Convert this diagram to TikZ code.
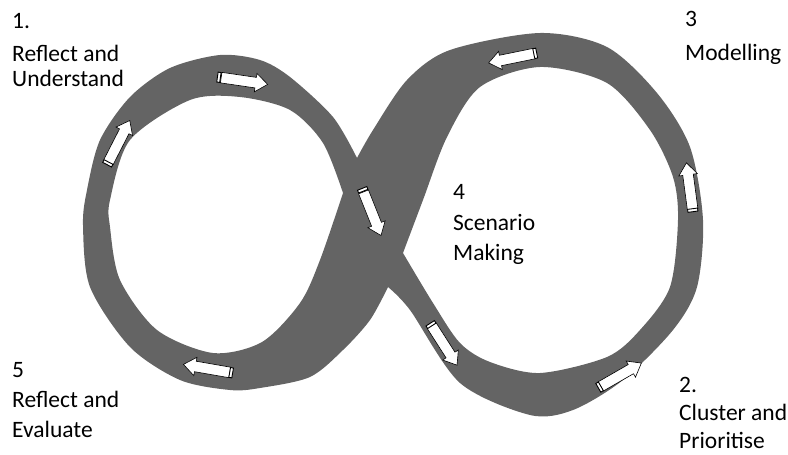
\documentclass[tikz,border=0pt]{standalone}
\usepackage{fontspec}
\setmainfont{Carlito}
\usetikzlibrary{shapes.arrows}
\definecolor{bandgray}{RGB}{100,100,100}
\tikzset{
 blockarrow/.style={single arrow, draw=black, fill=white, line width=0.6pt, inner xsep=0pt, inner ysep=5pt, minimum height=47pt, single arrow head extend=4pt, single arrow tip angle=75, sloped, allow upside down},
 tailcap/.style={rectangle, draw=black, fill=white, line width=0.9pt, minimum width=3pt, minimum height=10pt, inner sep=0pt, sloped, allow upside down},
 lbl/.style={anchor=base west, align=left, inner sep=0pt, font=\fontsize{23.5pt}{25pt}\selectfont}
}
\begin{document}
\begin{tikzpicture}[x=1pt,y=-1pt]
\useasboundingbox (0,0) rectangle (788,455);
\fill[bandgray, even odd rule]
 plot[smooth] coordinates {(357,158) (373,130) (407,80) (450,50) (540,33) (607,47) (657,93) (690,147) (703,220) (697,287) (673,330) (623,380) (573,410) (530,415) (460,383) (410,310) (388,287)}
 -- plot[smooth] coordinates {(388,287) (370,320) (343,350) (310,377) (260,388) (230,390) (180,380) (130,347) (90,287) (83,225) (87,190) (100,140) (130,97) (170,68) (220,55) (260,60) (290,77) (333,117) (357,158)} -- cycle
 plot[smooth] coordinates {(343,193) (323,143) (290,110) (240,97) (190,100) (130,140) (110,200) (110,227) (120,280) (157,330) (213,353) (262,342) (300,303) (320,260) (343,193)} -- cycle
 plot[smooth] coordinates {(403,253) (423,200) (447,137) (480,87) (540,67) (607,83) (650,130) (673,177) (678,220) (670,287) (640,330) (607,357) (540,373) (490,362) (460,343) (433,303) (403,253)} -- cycle;

\coordinate (t1) at (217,77);  \coordinate (h1) at (265,84);
\coordinate (t2) at (107,165); \coordinate (h2) at (128,124);
\coordinate (t3) at (233,373); \coordinate (h3) at (187,365);
\coordinate (t4) at (362,188); \coordinate (h4) at (380,233);
\coordinate (t5) at (430,323); \coordinate (h5) at (455,362);
\coordinate (t6) at (598,388); \coordinate (h6) at (638,365);
\coordinate (t7) at (693,212); \coordinate (h7) at (687,167);
\coordinate (t8) at (537,53);  \coordinate (h8) at (493,62);
\foreach \i in {1,...,8}{
  \path (t\i) -- node[blockarrow] (a\i) {} (h\i);
  \path (t\i) -- node[tailcap, pos=0.04] (c\i) {} (h\i);
}

\node[lbl] (l1) at (12,86) {1.\\[8pt]Reflect and\\Understand};
\node[lbl] (l3) at (685,60) {3\\[9pt]Modelling};
\node[lbl] (l4) at (453,260) {4\\[6pt]Scenario\\[5pt]Making};
\node[lbl] (l2) at (679,448) {2.\\[3pt]Cluster and\\[3pt]Prioritise};
\node[lbl] (l5) at (12,437) {5\\[5pt]Reflect and\\[5pt]Evaluate};
\end{tikzpicture}
\end{document}
